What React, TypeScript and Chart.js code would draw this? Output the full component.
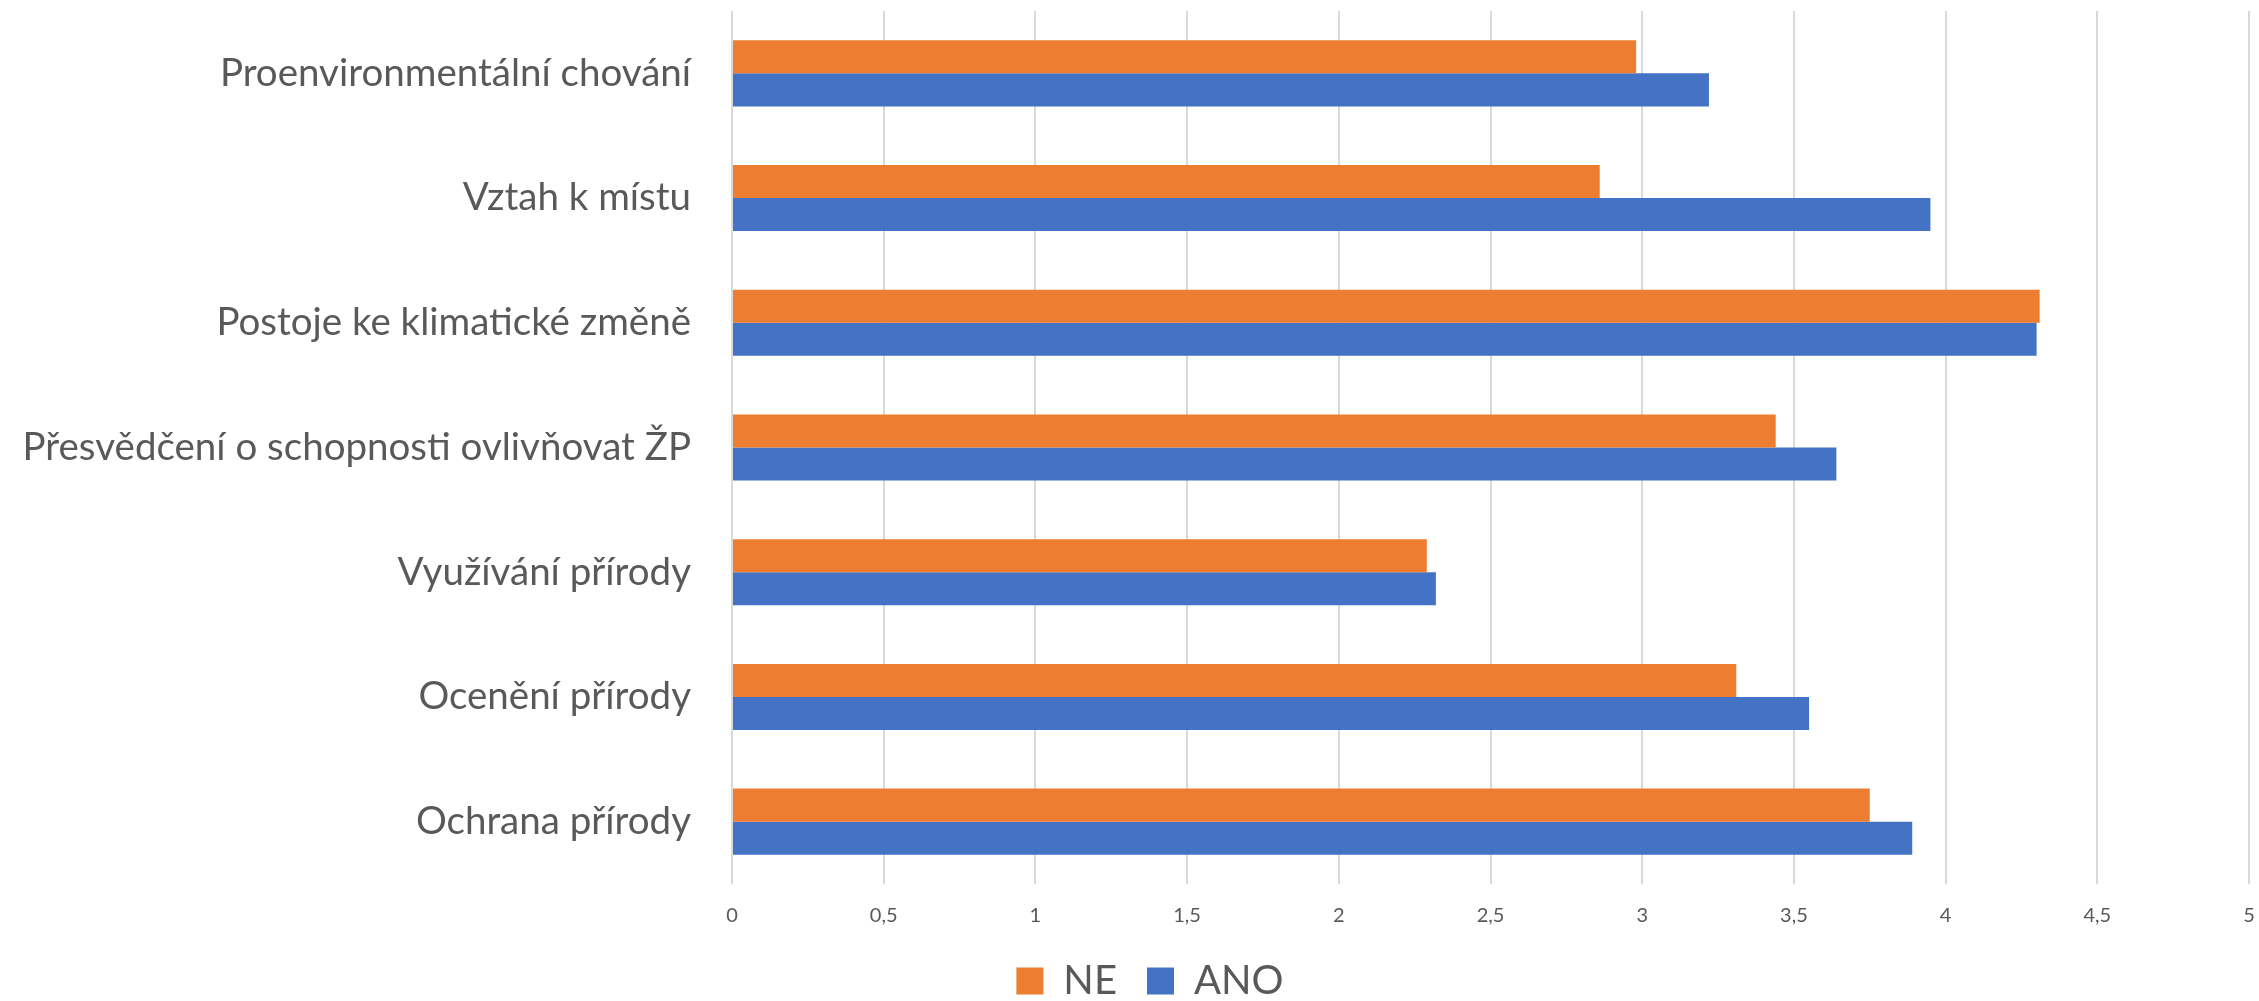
import React, { useEffect, useRef } from "react";
import { Chart, registerables } from "chart.js";

Chart.register(...registerables);

const categories = [
  "Proenvironmentální chování",
  "Vztah k místu",
  "Postoje ke klimatické změně",
  "Přesvědčení o schopnosti ovlivňovat ŽP",
  "Využívání přírody",
  "Ocenění přírody",
  "Ochrana přírody",
];
const seriesNames = ["NE", "ANO"];
const neValues = [2.98, 2.86, 4.31, 3.44, 2.29, 3.31, 3.75];
const anoValues = [3.22, 3.95, 4.3, 3.64, 2.32, 3.55, 3.89];
const xTickLabels = ["0", "0,5", "1", "1,5", "2", "2,5", "3", "3,5", "4", "4,5", "5"];

const ORANGE = "#ED7D31";
const BLUE = "#4472C4";
const TEXT = "#595959";
const FONT = "Lato";

const unclipYLabels = {
  id: "unclipYLabels",
  afterLayout(chart: any) {
    const y = chart.scales.y;
    if (y) y.left = 0;
  },
};

export default function App() {
  const ref = useRef<HTMLCanvasElement | null>(null);
  useEffect(() => {
    if (!ref.current) return;
    const chart = new Chart(ref.current, {
      type: "bar",
      data: {
        labels: categories,
        datasets: [
          { label: seriesNames[0], data: neValues, backgroundColor: ORANGE, borderWidth: 0 },
          { label: seriesNames[1], data: anoValues, backgroundColor: BLUE, borderWidth: 0 },
        ],
      },
      plugins: [unclipYLabels],
      options: {
        indexAxis: "y",
        animation: false,
        responsive: false,
        devicePixelRatio: 1,
        layout: { padding: { left: 51, right: 10, top: 11, bottom: 0 } },
        datasets: { bar: { barPercentage: 1, categoryPercentage: 0.53 } },
        scales: {
          x: {
            min: 0,
            max: 5,
            grid: { color: "#d9d9d9", lineWidth: 2, drawTicks: false },
            border: { display: false },
            ticks: {
              stepSize: 0.5,
              padding: 20,
              color: TEXT,
              font: { family: FONT, size: 20 },
              callback: (_v: any, i: number) => xTickLabels[i],
            },
            afterFit: (s: any) => {
              s.height = 47;
              s.paddingLeft = 0;
              s.paddingRight = 0;
            },
          },
          y: {
            grid: { display: false, drawTicks: false },
            border: { display: false },
            ticks: {
              padding: 41,
              color: TEXT,
              font: { family: FONT, size: 38.5 },
            },
            afterFit: (s: any) => {
              s.width = 681;
              s.paddingTop = 0;
              s.paddingBottom = 0;
            },
          },
        },
        plugins: {
          legend: {
            position: "bottom",
            labels: {
              color: TEXT,
              font: { family: FONT, size: 40 },
              boxWidth: 27,
              boxHeight: 27,
              padding: 30,
            },
          },
          tooltip: { enabled: false },
        },
      },
    });
    return () => chart.destroy();
  }, []);
  return (
    <div style={{ position: "fixed", left: 0, top: 0, width: 2259, height: 1001, overflow: "hidden", background: "#fff" }}>
      <canvas ref={ref} width={2259} height={1011} style={{ display: "block" }} />
    </div>
  );
}
